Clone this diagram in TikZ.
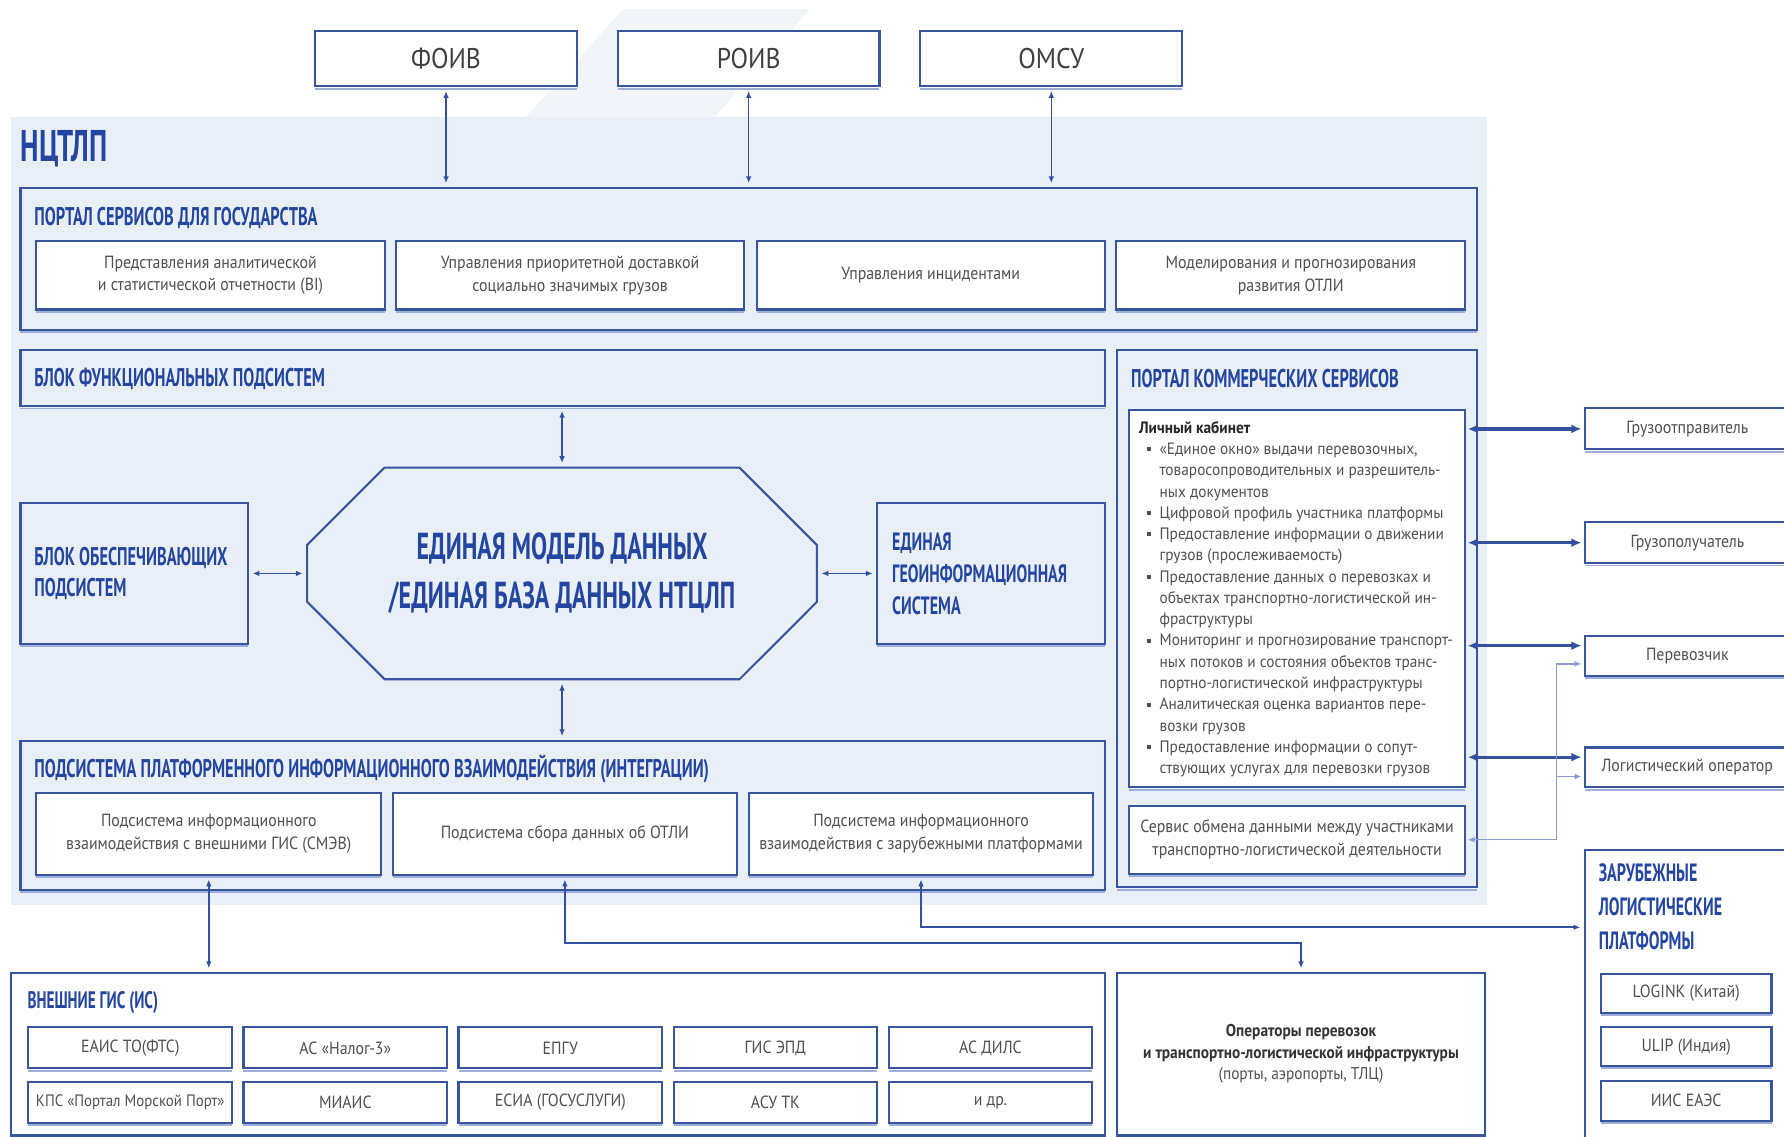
\documentclass[tikz,border=0pt]{standalone}
\usepackage{fontspec}
\setmainfont{PT Sans}
\newfontfamily\condf[FakeStretch=0.64]{PT Sans}
\newfontfamily\bodyf[FakeStretch=0.9]{PT Sans}
\newfontfamily\listf[FakeStretch=0.93]{PT Sans}
\usetikzlibrary{shapes.misc,arrows.meta,calc}
\definecolor{panel}{HTML}{E9EFF7}
\definecolor{bordc}{HTML}{3A559F}
\definecolor{titlec}{HTML}{2446A0}
\definecolor{txtc}{HTML}{505050}
\definecolor{arrc}{HTML}{3450A0}
\definecolor{thinc}{HTML}{8A9AD4}
\definecolor{decoc}{HTML}{F1F4F9}
\definecolor{shadc}{HTML}{9DB0DA}
\newcommand\lkbul{\makebox[18pt][l]{\hspace{7pt}\rule[2.8pt]{3.5pt}{3.5pt}}}
\newcommand\lkind{\hspace*{18pt}}
\begin{document}
\begin{tikzpicture}[x=1pt,y=-1pt,
  shad/.style={append after command={([yshift=-2pt]\tikzlastnode.south west) edge[draw=shadc, line width=1.6pt] ([yshift=-2pt]\tikzlastnode.south east)}},
  cont/.style={draw=bordc, line width=1.8pt, fill=panel, inner sep=0pt, outer sep=0pt, anchor=north west, shad},
  wbox/.style={draw=bordc, line width=1.8pt, fill=white, inner sep=2pt, outer sep=0pt, anchor=north west, align=center, font=\bodyf\fontsize{15.5}{20}\selectfont, text=txtc, shad},
  topbox/.style={wbox, font=\bodyf\fontsize{25}{30}\selectfont, text=black!75},
  ttl/.style={anchor=west, inner sep=0pt, align=left, font=\condf\bfseries\fontsize{22.5}{28}\selectfont, text=titlec},
  darr/.style={{Latex[length=6pt,width=5pt]}-{Latex[length=6pt,width=5pt]}, draw=arrc, line width=1.4pt, shorten <=4pt, shorten >=4pt},
  tharr/.style={{Latex[length=9pt,width=8pt]}-{Latex[length=9pt,width=8pt]}, draw=arrc, line width=2.8pt, shorten <=2pt, shorten >=3pt},
  thinarr/.style={{Latex[length=6pt,width=5pt]}-{Latex[length=6pt,width=5pt]}, draw=thinc, line width=1.2pt, shorten <=2pt, shorten >=3pt},
  thinone/.style={-{Latex[length=6pt,width=5pt]}, draw=thinc, line width=1.2pt, shorten >=3pt}
]
\useasboundingbox (0,0) rectangle (1568,999);
\fill[decoc] (548,8) -- (712,8) -- (628,103) -- (462,103) -- cycle;
\node[fill=panel, inner sep=0pt, outer sep=0pt, minimum width=1297, minimum height=692, anchor=north west] (bg) at (10,103) {};

% top authorities
\node[topbox, minimum width=230, minimum height=49] (foiv) at (277,27) {ФОИВ};
\node[topbox, minimum width=230, minimum height=49] (roiv) at (543,27) {РОИВ};
\node[topbox, minimum width=230, minimum height=49] (omsu) at (809,27) {ОМСУ};

\node[ttl, font=\condf\bfseries\fontsize{39}{44}\selectfont] (nctlp) at (18,131) {НЦТЛП};

% government portal
\node[cont, minimum width=1280, minimum height=125] (gport) at (18,165) {};
\node[ttl] (gportt) at (30,192) {ПОРТАЛ СЕРВИСОВ ДЛЯ ГОСУДАРСТВА};
\node[wbox, minimum width=306, minimum height=60] (ps1) at (32,212) {Представления аналитической\\и статистической отчетности (BI)};
\node[wbox, minimum width=306, minimum height=60] (ps2) at (348,212) {Управления приоритетной доставкой\\социально значимых грузов};
\node[wbox, minimum width=306, minimum height=60] (ps3) at (665,212) {Управления инцидентами};
\node[wbox, minimum width=307, minimum height=60] (ps4) at (981,212) {Моделирования и прогнозирования\\развития ОТЛИ};

% functional block
\node[cont, minimum width=953, minimum height=49] (func) at (18,308) {};
\node[ttl] (funct) at (30,333) {БЛОК ФУНКЦИОНАЛЬНЫХ ПОДСИСТЕМ};

% commercial portal
\node[cont, minimum width=316, minimum height=472] (comm) at (982,308) {};
\node[ttl] (commt) at (994,333) {ПОРТАЛ КОММЕРЧЕСКИХ СЕРВИСОВ};
\node[wbox, minimum width=296, minimum height=332] (lk) at (992,360) {};
\node[anchor=north west, inner sep=0pt, align=left, font=\listf\fontsize{14.5}{18.7}\selectfont, text=txtc] (lkt) at (1001,370) {%
{\color{black!85}\bfseries Личный кабинет}\\
\lkbul«Единое окно» выдачи перевозочных,\\
\lkind товаросопроводительных и разрешитель-\\
\lkind ных документов\\
\lkbul Цифровой профиль участника платформы\\
\lkbul Предоставление информации о движении\\
\lkind грузов (прослеживаемость)\\
\lkbul Предоставление данных о перевозках и\\
\lkind объектах транспортно-логистической ин-\\
\lkind фраструктуры\\
\lkbul Мониторинг и прогнозирование транспорт-\\
\lkind ных потоков и состояния объектов транс-\\
\lkind портно-логистической инфраструктуры\\
\lkbul Аналитическая оценка вариантов пере-\\
\lkind возки грузов\\
\lkbul Предоставление информации о сопут-\\
\lkind ствующих услугах для перевозки грузов};
\node[wbox, minimum width=296, minimum height=60] (serv) at (992,708) {Сервис обмена данными между участниками\\транспортно-логистической деятельности};

% supporting block, core, GIS
\node[cont, minimum width=200, minimum height=124] (obesp) at (18,442) {};
\node[ttl] (obespt) at (30,504) {БЛОК ОБЕСПЕЧИВАЮЩИХ\\ПОДСИСТЕМ};
\node[draw=bordc, line width=1.8pt, fill=panel, chamfered rectangle, chamfered rectangle xsep=30pt, chamfered rectangle ysep=38pt, minimum width=448, minimum height=186, inner sep=0pt, outer sep=0pt, align=center, font=\condf\bfseries\fontsize{33}{43}\selectfont, text=titlec] (oct) at (494,504) {ЕДИНАЯ МОДЕЛЬ ДАННЫХ\\/ЕДИНАЯ БАЗА ДАННЫХ НТЦЛП};
\node[cont, minimum width=200, minimum height=124] (geo) at (771,442) {};
\node[ttl, font=\condf\bfseries\fontsize{22}{28}\selectfont] (geot) at (784,504) {ЕДИНАЯ\\ГЕОИНФОРМАЦИОННАЯ\\СИСТЕМА};

% integration subsystem
\node[cont, minimum width=953, minimum height=131] (integ) at (18,651) {};
\node[ttl] (integt) at (30,676) {ПОДСИСТЕМА ПЛАТФОРМЕННОГО ИНФОРМАЦИОННОГО ВЗАИМОДЕЙСТВИЯ (ИНТЕГРАЦИИ)};
\node[wbox, minimum width=303, minimum height=72] (is1) at (32,697) {Подсистема информационного\\взаимодействия с внешними ГИС (СМЭВ)};
\node[wbox, minimum width=303, minimum height=72] (is2) at (345,697) {Подсистема сбора данных об ОТЛИ};
\node[wbox, minimum width=303, minimum height=72] (is3) at (658,697) {Подсистема информационного\\взаимодействия с зарубежными платформами};

% external GIS
\node[cont, fill=white, minimum width=961, minimum height=143] (ext) at (10,855) {};
\node[ttl, font=\condf\bfseries\fontsize{21}{24}\selectfont] (extt) at (24,881) {ВНЕШНИЕ ГИС (ИС)};
\node[wbox, minimum width=179, minimum height=36] (e1) at (25,903) {ЕАИС ТО(ФТС)};
\node[wbox, minimum width=179, minimum height=36] (e2) at (214,903) {АС «Налог-3»};
\node[wbox, minimum width=179, minimum height=36] (e3) at (403,903) {ЕПГУ};
\node[wbox, minimum width=179, minimum height=36] (e4) at (592,903) {ГИС ЭПД};
\node[wbox, minimum width=179, minimum height=36] (e5) at (781,903) {АС ДИЛС};
\node[wbox, minimum width=179, minimum height=36, font=\bodyf\fontsize{14.5}{20}\selectfont] (e6) at (25,951) {КПС «Портал Морской Порт»};
\node[wbox, minimum width=179, minimum height=36] (e7) at (214,951) {МИАИС};
\node[wbox, minimum width=179, minimum height=36] (e8) at (403,951) {ЕСИА (ГОСУСЛУГИ)};
\node[wbox, minimum width=179, minimum height=36] (e9) at (592,951) {АСУ ТК};
\node[wbox, minimum width=179, minimum height=36] (e10) at (781,951) {и др.};

% operators
\node[wbox, minimum width=323, minimum height=143, font=\bodyf\fontsize{15}{19}\selectfont] (oper) at (982,855) {{\bfseries\color{black!80}Операторы перевозок}\\{\bfseries\color{black!80}и транспортно-логистической инфраструктуры}\\(порты, аэропорты, ТЛЦ)};

% right participants
\node[wbox, minimum width=180, minimum height=36] (gr1) at (1393,359) {Грузоотправитель};
\node[wbox, minimum width=180, minimum height=36] (gr2) at (1393,459) {Грузополучатель};
\node[wbox, minimum width=180, minimum height=35] (perev) at (1393,559) {Перевозчик};
\node[wbox, minimum width=180, minimum height=35] (logop) at (1393,657) {Логистический оператор};

% foreign platforms
\node[cont, fill=white, minimum width=182, minimum height=258] (zar) at (1393,747) {};
\node[ttl, anchor=north west, font=\condf\bfseries\fontsize{22}{30}\selectfont] (zart) at (1405,759) {ЗАРУБЕЖНЫЕ\\ЛОГИСТИЧЕСКИЕ\\ПЛАТФОРМЫ};
\node[wbox, minimum width=150, minimum height=34] (z1) at (1407,856) {LOGINK (Китай)};
\node[wbox, minimum width=150, minimum height=34] (z2) at (1407,903) {ULIP (Индия)};
\node[wbox, minimum width=150, minimum height=35] (z3) at (1407,950) {ИИС ЕАЭС};

% connectors
\draw[darr] (foiv.south) -- (foiv.south |- gport.north);
\draw[darr] (roiv.south) -- (roiv.south |- gport.north);
\draw[darr] (omsu.south) -- (omsu.south |- gport.north);
\draw[darr] (oct.north |- func.south) -- (oct.north);
\draw[darr] (oct.south) -- (oct.south |- integ.north);
\draw[darr] (obesp.east) -- (oct.west);
\draw[darr] (oct.east) -- (geo.west);

\draw[tharr] (lk.east |- gr1.west) -- (gr1.west);
\draw[tharr] (lk.east |- gr2.west) -- (gr2.west);
\draw[tharr] ($(lk.east |- perev.west)+(0,-9)$) -- ($(perev.west)+(0,-9)$);
\draw[tharr] ($(lk.east |- logop.west)+(0,-9)$) -- ($(logop.west)+(0,-9)$);

\coordinate (busx) at (1368,0);
\draw[thinarr] (serv.east) -- (serv.east -| busx) |- ($(perev.west)+(0,7)$);
\draw[thinone] ($(busx |- logop.west)+(0,8)$) -- ($(logop.west)+(0,8)$);

\coordinate (lvla) at (0,829);
\coordinate (lvlb) at (0,815);
\draw[darr] (is1.south) -- (is1.south |- ext.north);
\draw[darr, line width=1.8pt] (is2.south) -- (is2.south |- lvla) -| (oper.north);
\draw[darr, line width=1.8pt] (is3.south) -- (is3.south |- lvlb) -- (zar.west |- lvlb);
\end{tikzpicture}
\end{document}
